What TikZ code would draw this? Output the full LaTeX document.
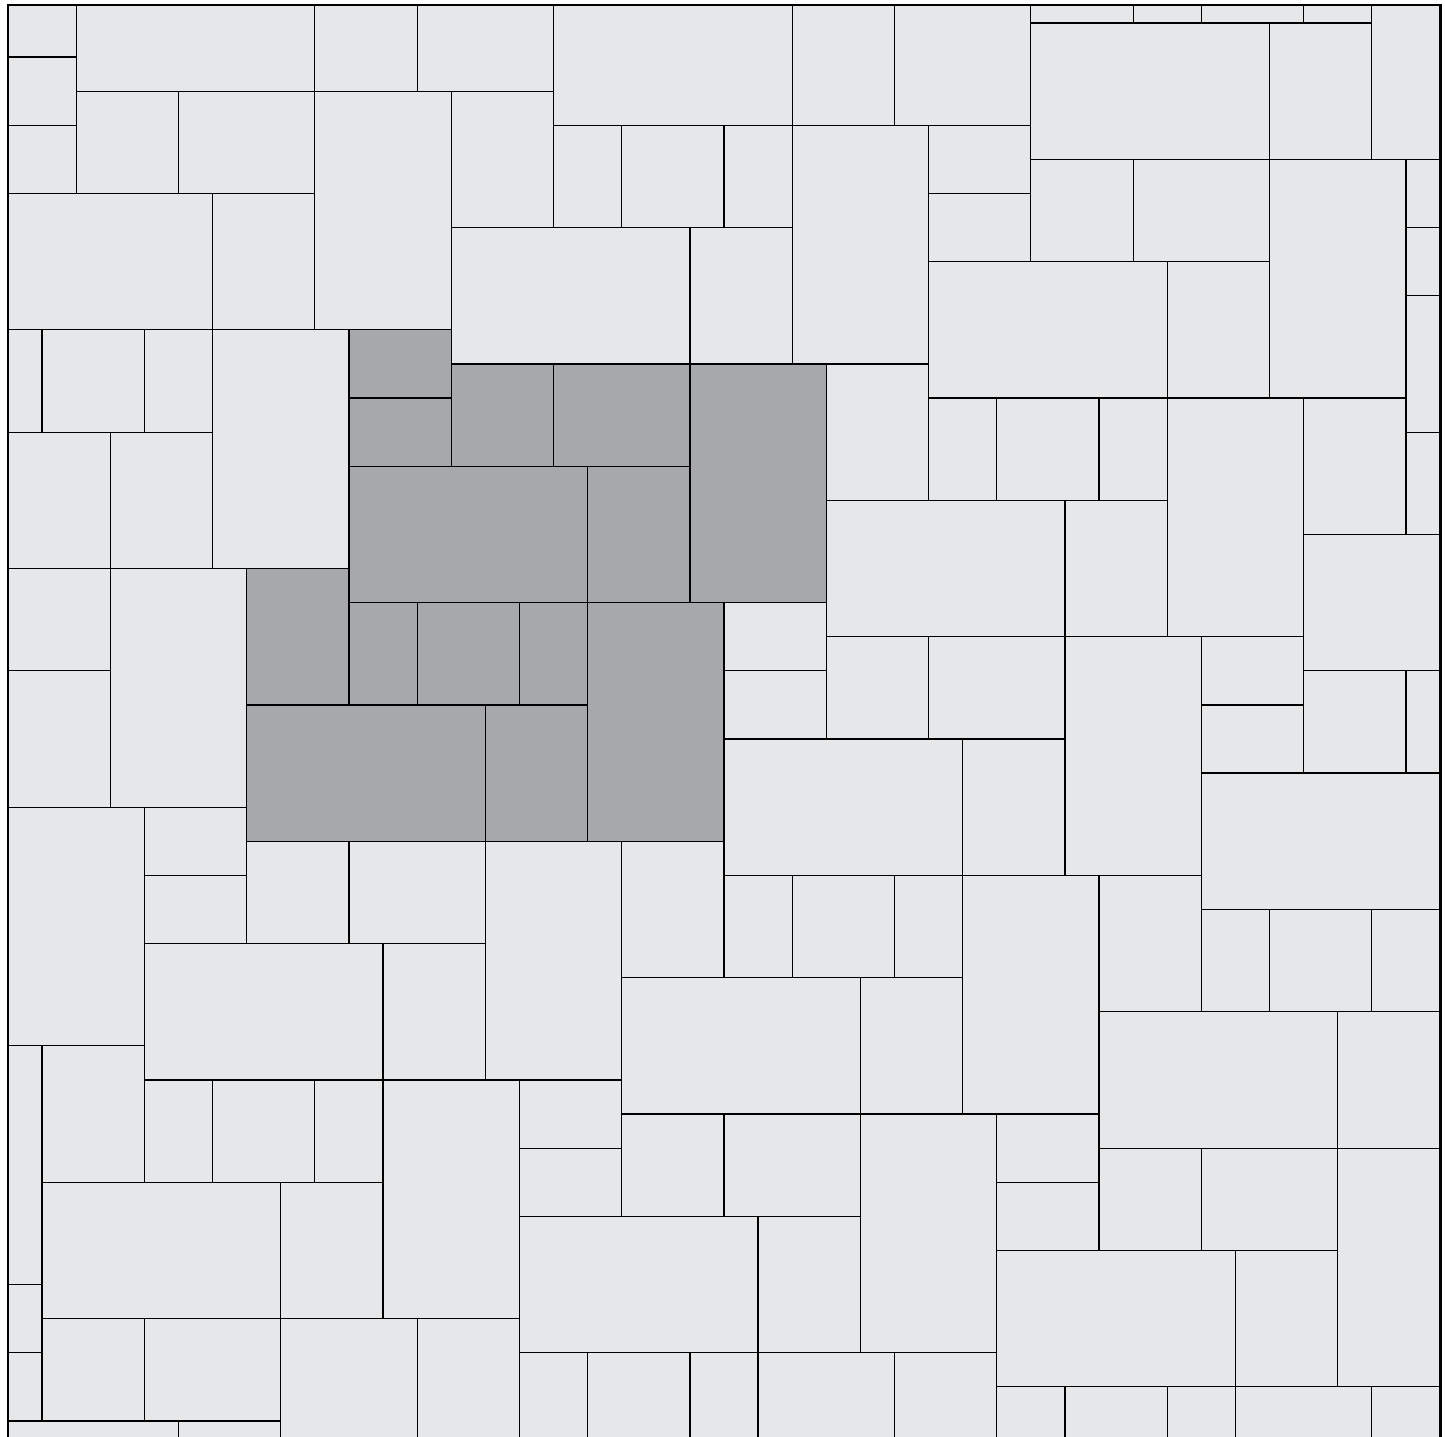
\documentclass[tikz,border=0pt]{standalone}
\usepackage{tikz}
\definecolor{tilelight}{HTML}{E6E7E9}
\definecolor{tiledark}{HTML}{A7A8AB}
\tikzset{
  lighttile/.style={draw=black,fill=tilelight,line width=1.05pt},
  darktile/.style={draw=black,fill=tiledark,line width=1.05pt},
  frameline/.style={draw=black,line width=1.9pt}
}
\begin{document}
\begin{tikzpicture}[x=1cm,y=-1cm]
\useasboundingbox (-0.2346,-0.6746) rectangle (42.147,41.472);
\clip (-0.2346,-0.6746) rectangle (42.147,41.472);
\fill[white] (-0.2346,-0.6746) rectangle (42.147,41.472);
% light tiles
\foreach \a/\b/\c/\d in {
0/-0.53/2/1, 0/1/2/3, 0/3/2/5, 2/-0.53/9/2, 9/-0.53/12/2, 12/-0.53/16/2, 16/-0.53/23/3, 23/-0.53/26/3, 26/-0.53/30/3,
30/-0.53/33/0, 33/-0.53/35/0, 35/-0.53/38/0, 38/-0.53/40/0, 40/-0.53/42/4, 30/0/37/4, 37/0/40/4,
2/2/5/5, 5/2/9/5, 9/2/13/9, 13/2/16/6, 16/3/18/6, 18/3/21/6, 21/3/23/6, 23/3/27/10, 27/3/30/5, 27/5/30/7,
30/4/33/7, 33/4/37/7, 37/4/41/11, 41/4/42/6, 41/6/42/8, 41/8/42/12, 41/12/42/15,
0/5/6/9, 6/5/9/9, 13/6/20/10, 20/6/23/10, 27/7/34/11, 34/7/37/11,
0/9/1/12, 1/9/4/12, 4/9/6/12, 6/9/10/16, 24/10/27/14, 27/11/29/14, 29/11/32/14, 32/11/34/14, 34/11/38/18, 38/11/41/15,
0/12/3/16, 3/12/6/16, 24/14/31/18, 31/14/34/18, 38/15/42/19,
0/16/3/19, 3/16/7/23, 21/17/24/19, 21/19/24/21, 24/18/27/21, 27/18/31/21, 31/18/35/25, 35/18/38/20, 35/20/38/22,
0/19/3/23, 38/19/41/22, 41/19/42/22, 21/21/28/25, 28/21/31/25, 35/22/42/26,
0/23/4/30, 4/23/7/25, 7/24/10/27, 10/24/14/27, 14/24/18/31, 18/24/21/28, 4/25/7/27, 21/25/23/28, 23/25/26/28,
26/25/28/28, 28/25/32/32, 32/25/35/29, 35/26/37/29, 37/26/40/29, 40/26/42/29,
4/27/11/31, 11/27/14/31, 18/28/25/32, 25/28/28/32, 32/29/39/33, 39/29/42/33,
0/30/1/37, 1/30/4/34, 4/31/6/34, 6/31/9/34, 9/31/11/34, 11/31/15/38, 15/31/18/33, 15/33/18/35, 18/32/21/35,
21/32/25/35, 25/32/29/39, 29/32/32/34, 29/34/32/36, 32/33/35/36, 35/33/39/36, 39/33/42/40,
1/34/8/38, 8/34/11/38, 15/35/22/39, 22/35/25/39, 29/36/36/40, 36/36/39/40,
0/37/1/39, 0/39/1/41, 1/38/4/41, 4/38/8/41, 8/38/12/42, 12/38/15/42, 15/39/17/42, 17/39/20/42, 20/39/22/42,
22/39/26/42, 26/39/29/42, 29/40/31/42, 31/40/34/42, 34/40/36/42, 36/40/40/42, 40/40/42/42, 0/41/5/42, 5/41/8/42}
  \draw[lighttile] (\a,\b) rectangle (\c,\d);
% dark tiles
\foreach \a/\b/\c/\d in {
10/9/13/11, 10/11/13/13, 13/10/16/13, 16/10/20/13, 20/10/24/17, 10/13/17/17, 17/13/20/17,
7/16/10/20, 10/17/12/20, 12/17/15/20, 15/17/17/20, 17/17/21/24, 7/20/14/24, 14/20/17/24}
  \draw[darktile] (\a,\b) rectangle (\c,\d);
% frame
\draw[frameline] (0,42) -- (0,-0.53) -- (42.03,-0.53) -- (42.03,42);
\end{tikzpicture}
\end{document}
